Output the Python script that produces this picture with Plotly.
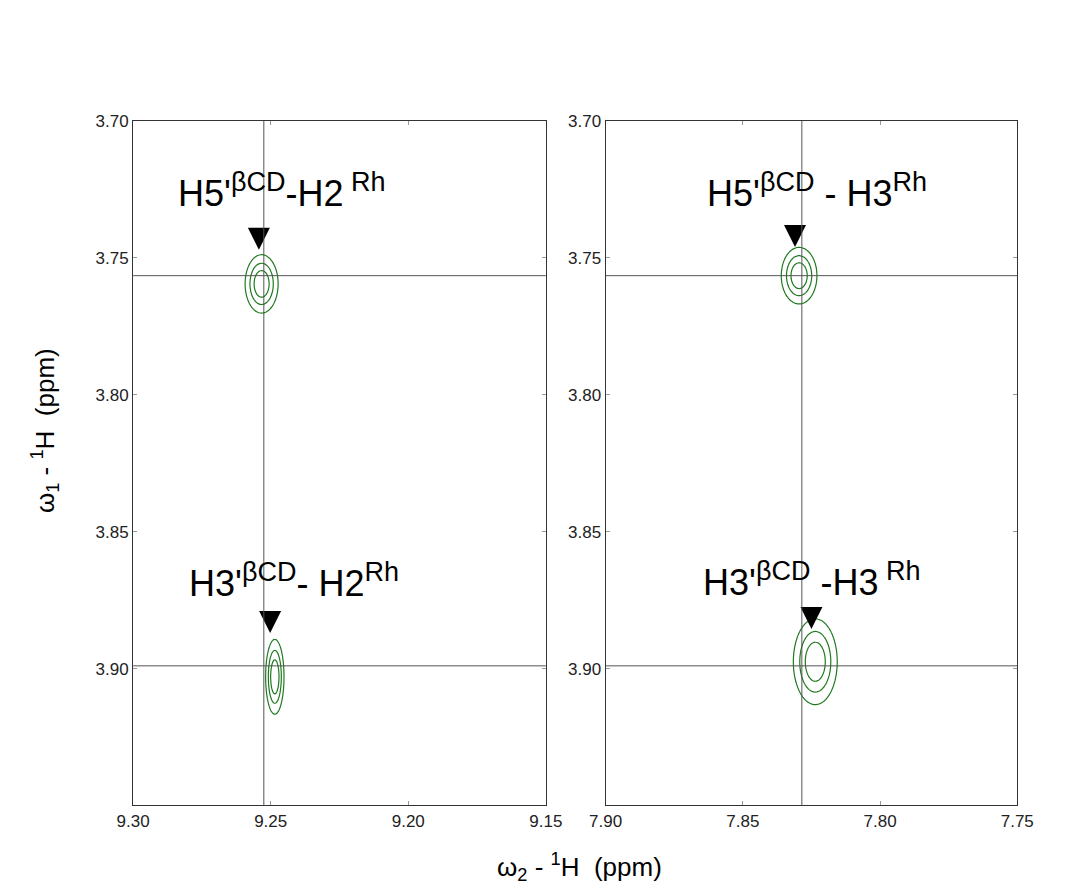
import numpy as np
import plotly.graph_objects as go

# peaks: (panel, w2 centre, w1 centre, sigma w2, sigma w1)
peak_panel = [1, 1, 2, 2]
peak_x = [9.2533, 9.2485, 7.8295, 7.8236]
peak_y = [3.7595, 3.9030, 3.7565, 3.8975]
peak_sx = [0.0036, 0.0020, 0.0039, 0.0048]
peak_sy = [0.0064, 0.0082, 0.0062, 0.0094]

# crosshair positions
vline_x = [9.2525, 7.8285]
hline_y = [3.7565, 3.8990]

# arrow markers
arrow_panel = [1, 1, 2, 2]
arrow_x = [9.2543, 9.2502, 7.8310, 7.8250]
arrow_y = [3.7470, 3.8870, 3.7460, 3.8855]

# labels
label_panel = [1, 1, 2, 2]
label_x = [9.2460, 9.2415, 7.8230, 7.8250]
label_y = [3.7255, 3.8680, 3.7255, 3.8675]
SP = "<sup><span style='font-size:27px'>"
label_text = [
    f"H5'{SP}βCD</span></sup>-H2{SP} Rh</span></sup>",
    f"H3'{SP}βCD</span></sup>- H2{SP}Rh</span></sup>",
    f"H5'{SP}βCD</span></sup> - H3{SP}Rh</span></sup>",
    f"H3'{SP}βCD</span></sup> -H3{SP} Rh</span></sup>",
]

x_ranges = {1: [9.30, 9.15], 2: [7.90, 7.75]}
y_range = [3.95, 3.70]
xdom = {1: [0.103, 0.496], 2: [0.553, 0.945]}
ydom = [0.105, 0.882]

fig = go.Figure()
green = "#1f7a1f"
for p in (1, 2):
    s = "" if p == 1 else "2"
    gx = np.linspace(min(x_ranges[p]), max(x_ranges[p]), 400)
    gy = np.linspace(3.70, 3.95, 500)
    X, Y = np.meshgrid(gx, gy)
    Z = np.zeros_like(X)
    for i in range(len(peak_x)):
        if peak_panel[i] == p:
            Z += np.exp(-((X - peak_x[i]) ** 2 / (2 * peak_sx[i] ** 2)
                          + (Y - peak_y[i]) ** 2 / (2 * peak_sy[i] ** 2)))
    fig.add_trace(go.Contour(
        x=gx, y=gy, z=Z, xaxis="x" + s, yaxis="y" + s,
        contours=dict(start=0.25, end=0.75, size=0.25, coloring="none"),
        line=dict(color=green, width=1.2), showscale=False, hoverinfo="skip"))
    fig.add_trace(go.Scatter(
        x=[arrow_x[i] for i in range(4) if arrow_panel[i] == p],
        y=[arrow_y[i] for i in range(4) if arrow_panel[i] == p],
        mode="markers", marker=dict(symbol="arrow-down", size=22, color="black",
                                    line=dict(width=0)),
        xaxis="x" + s, yaxis="y" + s, showlegend=False))
    fig.add_shape(type="line", xref="x" + s, yref="paper",
                  x0=vline_x[p - 1], x1=vline_x[p - 1], y0=ydom[0], y1=ydom[1],
                  line=dict(color="#555", width=1))
    for hy in hline_y:
        fig.add_shape(type="line", xref="paper", yref="y" + s,
                      x0=xdom[p][0], x1=xdom[p][1],
                      y0=hy, y1=hy, line=dict(color="#555", width=1))

for i in range(4):
    s = "" if label_panel[i] == 1 else "2"
    fig.add_annotation(x=label_x[i], y=label_y[i], xref="x" + s, yref="y" + s,
                       text=label_text[i], showarrow=False,
                       font=dict(size=36, color="black"))

axis_common = dict(showgrid=False, zeroline=False, showline=True, linecolor="#333",
                   linewidth=1.2, mirror="ticks", ticks="inside", ticklen=4,
                   tickcolor="#999", tickfont=dict(size=17, color="#222"))
fig.update_layout(
    width=1084, height=890, plot_bgcolor="white", paper_bgcolor="white",
    margin=dict(l=0, r=0, t=0, b=0), showlegend=False,
    font=dict(family="Liberation Sans, Arial, sans-serif"),
    xaxis=dict(domain=xdom[1], range=x_ranges[1], tickvals=[9.30, 9.25, 9.20, 9.15],
               tickformat=".2f", **axis_common),
    xaxis2=dict(domain=xdom[2], range=x_ranges[2], tickvals=[7.90, 7.85, 7.80, 7.75],
                tickformat=".2f", **axis_common),
    yaxis=dict(domain=ydom, range=y_range, tickvals=[3.70, 3.75, 3.80, 3.85, 3.90],
               tickformat=".2f", **axis_common),
    yaxis2=dict(domain=ydom, range=y_range, anchor="x2",
                tickvals=[3.70, 3.75, 3.80, 3.85, 3.90], tickformat=".2f", **axis_common),
)
fig.add_annotation(xref="paper", yref="paper", x=0.528, y=0.012, showarrow=False,
                   text="ω<sub>2</sub> - <sup>1</sup>H  (ppm)", font=dict(size=26, color="black"))
fig.add_annotation(xref="paper", yref="paper", x=0.0, y=0.53, showarrow=False, textangle=-90,
                   text="ω<sub>1</sub> - <sup>1</sup>H  (ppm)", font=dict(size=26, color="black"))
fig.write_html("out.html")
